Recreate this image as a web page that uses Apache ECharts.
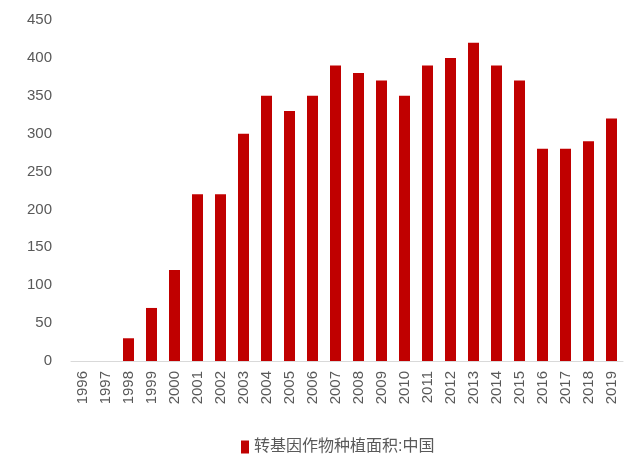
<!DOCTYPE html>
<html>
<head>
<meta charset="utf-8">
<script src="https://cdn.jsdelivr.net/npm/echarts@6/dist/echarts.min.js"></script>
<style>
  html,body{margin:0;padding:0;background:#fff;}
  #chart{width:640px;height:469px;}
</style>
</head>
<body>
<div id="chart"></div>
<script>
  // years on the x axis
  var years = ['1996','1997','1998','1999','2000','2001','2002','2003','2004','2005','2006','2007',
               '2008','2009','2010','2011','2012','2013','2014','2015','2016','2017','2018','2019'];
  // planted area values
  var areaCN = [0,0,30,70,120,220,220,300,350,330,350,390,380,370,350,390,400,420,390,370,280,280,290,320];
  var seriesName = '转基因作物种植面积:中国';

  var chart = echarts.init(document.getElementById('chart'));
  var font = '"Liberation Sans","Noto Sans CJK SC",sans-serif';

  var option = {
    animation:false,
    grid:{
      left:71,
      right:17,
      top:20,
      bottom:108
    },
    legend:{
      data:[seriesName],
      bottom:9,
      left:236,
      icon:'rect',
      itemWidth:8,
      itemHeight:13,
      itemGap:4,
      textStyle:{
        color:'#595959',
        fontSize:16,
        fontFamily:font
      }
    },
    xAxis:{
      type:'category',
      data:years,
      axisLine:{
        lineStyle:{color:'#d9d9d9',width:1}
      },
      axisTick:{show:false},
      axisLabel:{
        rotate:90,
        color:'#595959',
        fontSize:15,
        fontFamily:font,
        margin:10,
        interval:0
      }
    },
    yAxis:{
      type:'value',
      min:0,
      max:450,
      interval:50,
      axisLine:{show:false},
      axisTick:{show:false},
      splitLine:{show:false},
      axisLabel:{
        color:'#595959',
        fontSize:15,
        fontFamily:font,
        margin:19
      }
    },
    series:[{
      name:seriesName,
      type:'bar',
      data:areaCN,
      barWidth:11,
      itemStyle:{
        color:'#c00000'
      }
    }]
  };
  chart.setOption(option);
</script>
</body>
</html>
